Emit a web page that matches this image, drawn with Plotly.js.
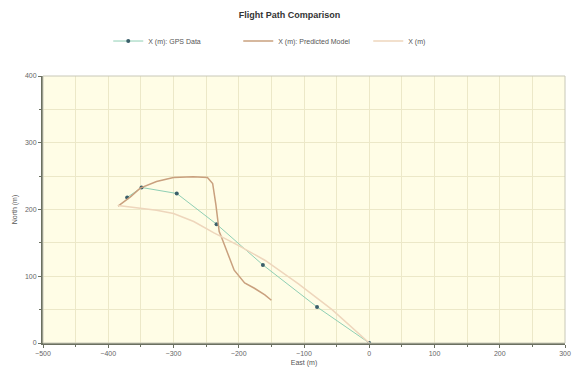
<!DOCTYPE html>
<html>
<head>
<meta charset="utf-8">
<script src="https://cdn.plot.ly/plotly-3.0.1.min.js"></script>
<style>html,body{margin:0;padding:0;background:#fff;}#chart{width:579px;height:370px;}</style>
</head>
<body>
<div id="chart"></div>
<script>
// GPS data (East, North)
const gpsEast  = [-371, -349, -295, -234, -163, -80, 0];
const gpsNorth = [218, 233, 224, 178, 117, 54, 0];

// Predicted model (upper arc)
const modelEast  = [-385, -366, -351, -326, -300, -270, -248, -240, -235, -230, -227, -217, -207, -191, -176, -160, -150];
const modelNorth = [205, 219, 232, 242, 248, 249, 248, 239, 207, 167, 160, 134, 109, 90, 82, 72, 64];

// X (m) third series (lower curve)
const thirdEast  = [-385, -356, -326, -300, -269, -238, -200, -160, -109, -57, 0];
const thirdNorth = [206, 203, 199, 194, 182, 165, 146, 124, 89, 50, 0];

const fontFam = '"Liberation Sans", Arial, sans-serif';

const traces = [
  {x: gpsEast, y: gpsNorth, name: 'X (m): GPS Data', type: 'scatter', mode: 'lines+markers',
   line: {color: '#8fcfb4', width: 1}, marker: {color: '#3a5f6a', size: 4, symbol: 'circle'}},
  {x: modelEast, y: modelNorth, name: 'X (m): Predicted Model', type: 'scatter', mode: 'lines',
   line: {color: '#c9a07e', width: 1.5}},
  {x: thirdEast, y: thirdNorth, name: 'X (m)', type: 'scatter', mode: 'lines',
   line: {color: '#eed6bc', width: 1.5}}
];

const layout = {
  width: 579, height: 370,
  margin: {l: 43, r: 14, t: 76, b: 27},
  paper_bgcolor: '#ffffff',
  plot_bgcolor: '#fffde6',
  font: {family: fontFam, size: 7, color: '#555'},
  title: {text: '<b>Flight Path Comparison</b>', x: 0.5, xanchor: 'center', y: 0.959, yanchor: 'middle',
          font: {family: fontFam, size: 9, color: '#333'}},
  showlegend: true,
  legend: {orientation: 'h', x: 0.125, xanchor: 'left', y: 1.131, yanchor: 'middle',
           font: {family: fontFam, size: 7, color: '#555'}, itemwidth: 30,
           entrywidth: 85, entrywidthmode: 'pixels', bgcolor: 'rgba(0,0,0,0)'},
  xaxis: {
    range: [-500, 300], dtick: 100, tick0: 0, showgrid: true, gridcolor: '#ece8c8', gridwidth: 1,
    zeroline: false, showline: true, linecolor: '#6b7060', linewidth: 2, mirror: false,
    ticks: 'outside', ticklen: 3, tickcolor: '#6b7060',
    minor: {dtick: 50, showgrid: true, gridcolor: '#ece8c8', ticks: 'outside', ticklen: 2, tickcolor: '#6b7060'},
    tickfont: {size: 7, color: '#666'},
    title: {text: 'East (m)', font: {size: 7, color: '#555'}, standoff: 4}
  },
  yaxis: {
    range: [0, 400], dtick: 100, tick0: 0, showgrid: true, gridcolor: '#ece8c8', gridwidth: 1,
    zeroline: false, showline: true, linecolor: '#6b7060', linewidth: 2,
    ticks: 'outside', ticklen: 3, tickcolor: '#6b7060',
    minor: {dtick: 50, showgrid: true, gridcolor: '#ece8c8', ticks: 'outside', ticklen: 2, tickcolor: '#6b7060'},
    tickfont: {size: 7, color: '#666'},
    title: {text: 'North (m)', font: {size: 7, color: '#555'}, standoff: 6}
  },
  shapes: [
    {type: 'rect', xref: 'paper', yref: 'paper', x0: 0, x1: 1, y0: 0, y1: 1,
     line: {color: '#c8c8b8', width: 1}, fillcolor: 'rgba(0,0,0,0)', layer: 'above'}
  ]
};

Plotly.newPlot('chart', traces, layout, {displayModeBar: false, staticPlot: true});
</script>
</body>
</html>
